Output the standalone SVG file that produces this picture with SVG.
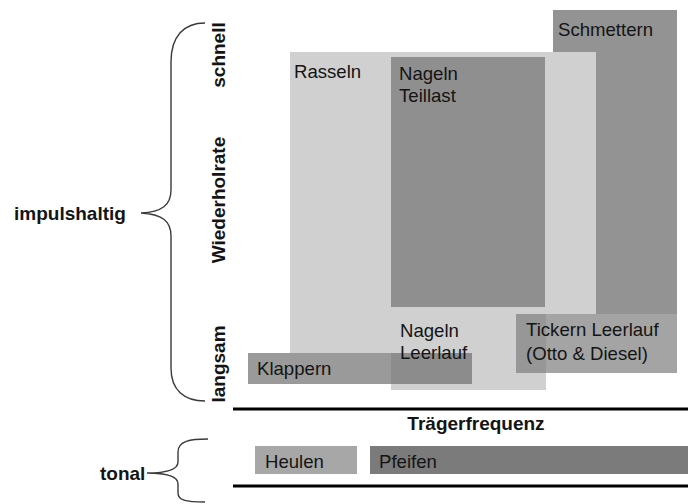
<svg xmlns="http://www.w3.org/2000/svg" width="688" height="504" viewBox="0 0 688 504">
<style>
.t{font-family:"Liberation Sans",Arial,sans-serif;font-size:18.6px;fill:#141414}
.b{font-family:"Liberation Sans",Arial,sans-serif;font-size:19px;font-weight:bold;fill:#141414}
.br{fill:none;stroke:#3a3a3a;stroke-width:1.4}
.axis{stroke:#000;stroke-width:3}
</style>
<rect width="688" height="504" fill="#fff"/>
<g id="connectors">
<path class="br" d="M205,23 C184,23 171,36 171,62 L171,190 C171,205 162,212 141,213 C162,214 171,221 171,236 L171,368 C171,390 184,401 205,401"/>
<path class="br" d="M208,439 C190,439 178,441 178,452 L178,462 C178,469 170,473 147,473 C170,473 178,477 178,484 L178,493 C178,500 185,502 205,502"/>
<line class="axis" x1="233" y1="409" x2="688" y2="409"/>
<line class="axis" x1="233" y1="486" x2="688" y2="486"/>
</g>
<g id="schmettern"><rect x="553" y="10" width="124" height="310" fill="#939393"/><text class="t" x="558" y="36">Schmettern</text></g>
<g id="rasseln"><rect x="290" y="52" width="306" height="305" fill="#d0d0d0"/><text class="t" x="294" y="78">Rasseln</text></g>
<g id="nageln-teillast"><rect x="391" y="57" width="154" height="250" fill="#8f8f8f"/><text class="t" x="399" y="80">Nageln</text><text class="t" x="399" y="102">Teillast</text></g>
<g id="nageln-leerlauf"><rect x="391" y="313" width="155" height="77" fill="#d0d0d0"/></g>
<g id="tickern"><rect x="516" y="314" width="161" height="59" fill="#a4a4a4"/><rect x="516" y="314" width="30" height="59" fill="#979797"/><text class="t" x="526" y="336">Tickern Leerlauf</text><text class="t" x="526" y="360">(Otto &amp; Diesel)</text></g>
<g id="klappern"><rect x="248" y="353" width="224" height="31" fill="#9a9a9a"/><rect x="391" y="353" width="81" height="31" fill="#8c8c8c"/><text class="t" x="257" y="375">Klappern</text></g>
<g id="nageln-leerlauf-text"><text class="t" x="400" y="337">Nageln</text><text class="t" x="400" y="359">Leerlauf</text></g>
<g id="heulen"><rect x="255" y="446" width="102" height="28" fill="#a7a7a7"/><text class="t" x="265" y="468">Heulen</text></g>
<g id="pfeifen"><rect x="370" y="446" width="318" height="28" fill="#7b7b7b"/><text class="t" x="379" y="468">Pfeifen</text></g>
<g id="labels">
<text class="b" x="14" y="220">impulshaltig</text>
<text class="b" x="100" y="480">tonal</text>
<text class="b" x="476" y="430" text-anchor="middle">Trägerfrequenz</text>
<text class="b" x="225" y="55" text-anchor="middle" transform="rotate(-90 225 55)">schnell</text>
<text class="b" x="225" y="200" text-anchor="middle" transform="rotate(-90 225 200)">Wiederholrate</text>
<text class="b" x="225" y="364" text-anchor="middle" transform="rotate(-90 225 364)">langsam</text>
</g>
</svg>
